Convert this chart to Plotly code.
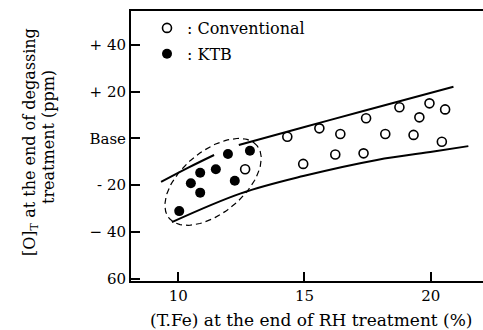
import numpy as np
import plotly.graph_objects as go

# (T.Fe) % at end of RH treatment vs [O]T change (ppm) at end of degassing
conv_tfe = [14.32, 15.59, 16.42, 17.44, 18.20, 18.76, 19.32, 19.55, 19.95, 20.57,
            20.44, 16.22, 17.34, 14.95, 12.65]
conv_o = [0.7, 4.3, 1.9, 8.6, 1.9, 13.3, 1.5, 9.0, 15.0, 12.4,
          -1.4, -6.9, -6.4, -10.9, -13.2]

ktb_tfe = [10.04, 10.50, 10.87, 10.87, 11.49, 11.97, 12.24, 12.84]
ktb_o = [-31.1, -19.2, -14.7, -23.2, -13.2, -6.7, -18.1, -5.3]

# band boundaries (upper boundary is interrupted near the KTB cluster)
upper_tfe = [9.32, 10.4, 11.42, None, 12.40, 15.0, 17.33, 20.90]
upper_o = [-18.6, -12.5, -7.1, None, -2.8, 4.9, 11.7, 22.1]
lower_tfe = [9.75, 12.48, 14.95, 17.87, 20.11, 21.49]
lower_o = [-35.8, -23.5, -16.1, -9.2, -5.6, -3.3]

ytick_vals = [40, 20, 0, -20, -40, -60]
ytick_text = ["+ 40", "+ 20", "Base", "- 20", "− 40", "60"]
xtick_vals = [10, 15, 20]

X_RANGE = [8.13, 22.07]
Y_RANGE = [-61.0, 54.5]

W, H = 483, 330
M_L, M_R, M_T, M_B = 131, 0, 11, 49
plot_w = W - M_L - M_R
plot_h = H - M_T - M_B
px_per_x = plot_w / (X_RANGE[1] - X_RANGE[0])
px_per_y = plot_h / (Y_RANGE[1] - Y_RANGE[0])

# dashed ellipse enclosing the KTB heats (axes given in screen pixels)
ell_cx, ell_cy = 11.38, -18.6
ell_a, ell_b, ell_ang = 57.0, 31.0, np.deg2rad(39.5)
t = np.linspace(0, 2 * np.pi, 120)
ex_px = ell_a * np.cos(t) * np.cos(ell_ang) - ell_b * np.sin(t) * np.sin(ell_ang)
ey_px = ell_a * np.cos(t) * np.sin(ell_ang) + ell_b * np.sin(t) * np.cos(ell_ang)
ell_x = ell_cx + ex_px / px_per_x
ell_y = ell_cy + ey_px / px_per_y

FONT = "DejaVu Serif"

fig = go.Figure()
fig.add_trace(go.Scatter(x=upper_tfe, y=upper_o, mode="lines", line=dict(color="black", width=2, shape="spline"),
                         showlegend=False, connectgaps=False))
fig.add_trace(go.Scatter(x=lower_tfe, y=lower_o, mode="lines", line=dict(color="black", width=2, shape="spline"),
                         showlegend=False))
fig.add_trace(go.Scatter(x=ell_x, y=ell_y, mode="lines", line=dict(color="black", width=1.2, dash="6px,4px"),
                         showlegend=False))
fig.add_trace(go.Scatter(x=conv_tfe, y=conv_o, mode="markers", name=": Conventional", legendgroup="a",
                         marker=dict(symbol="circle-open", size=9, color="black", line=dict(width=1.6))))
fig.add_trace(go.Scatter(x=ktb_tfe, y=ktb_o, mode="markers", name=": KTB", legendgroup="b",
                         marker=dict(symbol="circle", size=10, color="black")))

axis_common = dict(showgrid=False, zeroline=False, showline=True, linecolor="black", linewidth=2,
                   ticks="inside", tickcolor="black", tickwidth=2, ticklen=9,
                   tickfont=dict(family=FONT, size=15, color="black"))
fig.update_xaxes(range=X_RANGE, tickvals=xtick_vals, mirror=True, **axis_common)
fig.update_yaxes(range=Y_RANGE, tickvals=ytick_vals, ticktext=ytick_text, **axis_common)

fig.add_annotation(text="[O]<sub>T</sub> at the end of degassing", xref="paper", yref="paper",
                   x=(30 - M_L) / plot_w, y=(H - M_B - 142) / plot_h, textangle=-90, showarrow=False,
                   xanchor="center", yanchor="middle", font=dict(family=FONT, size=16, color="black"))
fig.add_annotation(text="treatment (ppm)", xref="paper", yref="paper",
                   x=(48 - M_L) / plot_w, y=(H - M_B - 137) / plot_h, textangle=-90, showarrow=False,
                   xanchor="center", yanchor="middle", font=dict(family=FONT, size=16, color="black"))
fig.add_annotation(text="(T.Fe) at the end of RH treatment (%)", xref="paper", yref="paper",
                   x=(311 - M_L) / plot_w, y=(H - M_B - 320) / plot_h, showarrow=False,
                   xanchor="center", yanchor="middle", font=dict(family=FONT, size=17, color="black"))

fig.update_layout(
    width=W, height=H,
    margin=dict(l=M_L, r=M_R, t=M_T, b=M_B),
    paper_bgcolor="white", plot_bgcolor="white",
    showlegend=True,
    legend=dict(x=(147 - M_L) / plot_w, y=(H - M_B - 11) / plot_h, xanchor="left", yanchor="top",
                bgcolor="rgba(0,0,0,0)", tracegroupgap=2, itemwidth=30,
                font=dict(family=FONT, size=16, color="black")),
)

fig.write_html("out.html")
